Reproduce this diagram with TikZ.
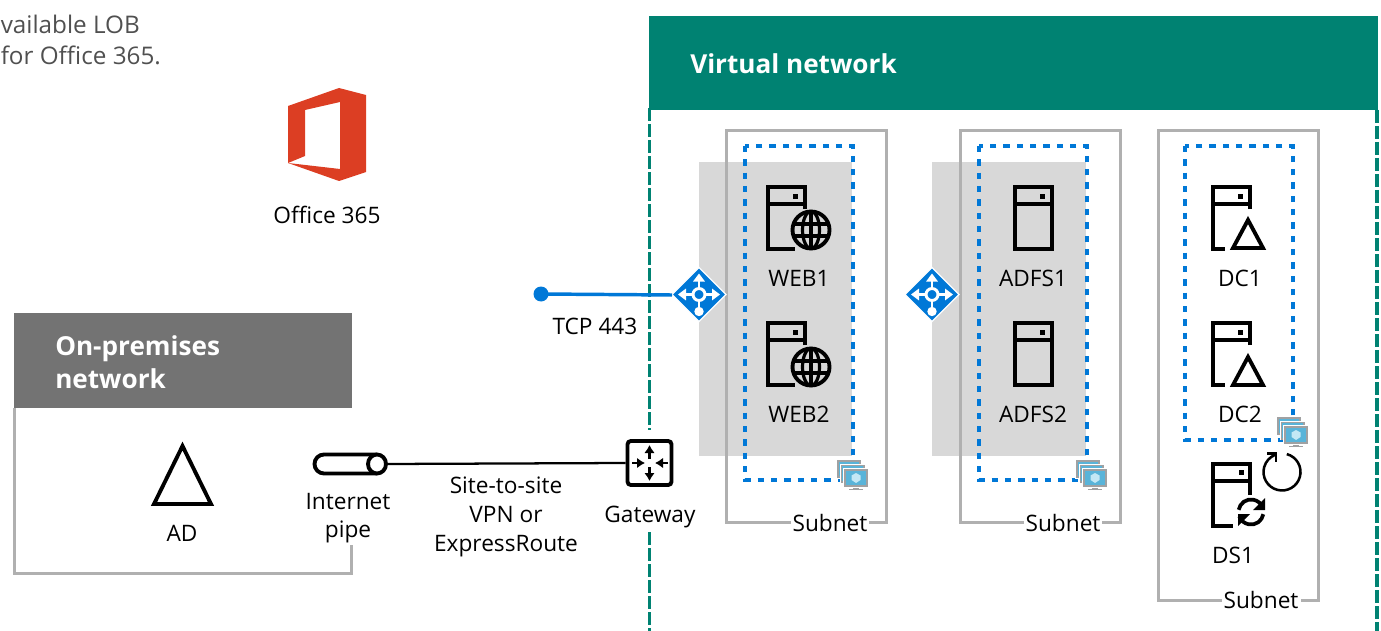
\documentclass[tikz,border=0pt]{standalone}
\usepackage{fontspec}
\setmainfont{Open Sans}
\usetikzlibrary{arrows.meta}
\definecolor{vnet}{HTML}{008272}
\definecolor{onprem}{HTML}{737373}
\definecolor{frameg}{HTML}{B0B0B0}
\definecolor{panelg}{HTML}{D8D8D8}
\definecolor{azblue}{HTML}{0078D7}
\definecolor{o365}{HTML}{DC3E23}
\definecolor{greytxt}{HTML}{505050}
\definecolor{vmblue}{HTML}{59B4D9}
\definecolor{vmgray}{HTML}{A0A1A2}
\definecolor{vmcube}{HTML}{C4E8F5}
\tikzset{
 x=0.75pt,y=-0.75pt,
 lab/.style={font=\fontsize{17pt}{21.5pt}\selectfont,text=black,align=center,inner sep=0pt},
 captxt/.style={font=\fontsize{18.2pt}{23pt}\selectfont,text=greytxt,inner sep=0pt,anchor=west},
 head/.style={font=\fontsize{19.6pt}{24.8pt}\selectfont\bfseries,text=white,align=left,inner sep=0pt,anchor=west},
 framebox/.style={draw=frameg,line width=2.25pt},
 avset/.style={draw=azblue,line width=2.4pt,dash pattern=on 4.8pt off 5.2pt},
 vnetdash/.style={draw=vnet,line width=2.6pt,dash pattern=on 9.4pt off 2.6pt},
 ico/.style={draw=black,line width=2.9pt},
}
\newcommand{\srv}[2]{% plain server body, top-left at (#1,#2)
 \draw[ico] (#1,#2) rectangle ++(37,62);
 \draw[ico] (#1,#2+17) -- ++(37,0);
 \fill[black] (#1+25,#2+7) rectangle ++(5,5);}
\newcommand{\srvopen}[3]{% server body broken at lower right, #3 = length of base
 \draw[ico] (#1+37,#2+22) |- (#1,#2) |- (#1+#3,#2+62);
 \draw[ico] (#1,#2+17) -- ++(37,0);
 \fill[black] (#1+25,#2+7) rectangle ++(5,5);}
\newcommand{\globeicon}[2]{% centre
 \draw[line width=2.9pt,black] (#1,#2) circle (18.5);
 \draw[line width=2.4pt,black] (#1,#2) ellipse (8.5 and 18.5);
 \draw[line width=2.4pt,black] (#1,#2-18) -- (#1,#2+18);
 \draw[line width=2.4pt,black] (#1-17,#2-6) -- (#1+17,#2-6) (#1-17,#2+6) -- (#1+17,#2+6);}
\newcommand{\adtri}[2]{% apex
 \draw[ico,line join=miter] (#1,#2+3) -- (#1+15,#2+31) -- (#1-15,#2+31) -- cycle;}
\newcommand{\lbicon}[2]{% centre
 \fill[azblue,draw=white,line width=1pt] (#1,#2-27) -- (#1+27,#2) -- (#1,#2+27) -- (#1-27,#2) -- cycle;
 \draw[white,line width=2.2pt,-{Triangle[length=6pt,width=8.5pt]}] (#1-6,#2) -- (#1-21,#2);
 \draw[white,line width=2.2pt,-{Triangle[length=6pt,width=8.5pt]}] (#1+6,#2) -- (#1+21,#2);
 \draw[white,line width=2.2pt,-{Triangle[length=6pt,width=8.5pt]}] (#1,#2-6) -- (#1,#2-21);
 \draw[white,line width=2.2pt] (#1,#2+6) -- (#1,#2+14);
 \draw[white,line width=2.2pt] (#1,#2) circle (6);
 \fill[white] (#1,#2+17) circle (4.7);}
\newcommand{\vmicon}[2]{% one monitor top-left
 \fill[vmgray] (#1+9,#2+17) rectangle ++(6,3);
 \fill[vmgray] (#1+5,#2+19.5) rectangle ++(14,1.6);
 \fill[white] (#1-.8,#2-.8) rectangle ++(25.6,19.6);
 \fill[vmgray] (#1,#2) rectangle ++(24,18);
 \fill[vmblue] (#1+1.6,#2+1.6) rectangle ++(20.8,14.8);
 \fill[vmcube] (#1+12,#2+4) -- (#1+16.5,#2+6.5) -- (#1+16.5,#2+11) -- (#1+12,#2+14) -- (#1+7.5,#2+11) -- (#1+7.5,#2+6.5) -- cycle;}
\newcommand{\vmstack}[2]{\vmicon{#1}{#2}\vmicon{#1+3.5}{#2+4.5}\vmicon{#1+7}{#2+9}}
\begin{document}
\begin{tikzpicture}
\useasboundingbox (0,0) rectangle (1381,631);
\begin{scope}
\clip (0,0) rectangle (1381,631);
% caption fragment
\node[captxt] (cap1) at (0.5,24) {vailable LOB};
\node[captxt] (cap2) at (0.5,55) {for Office 365.};
% Office logo
\fill[o365,even odd rule] (288,106) -- (339,88) -- (366,95) -- (366,172) -- (339,181) -- (288,163) -- cycle
 (305,110) -- (340,102) -- (340,169) -- (288,163) -- (305,156) -- cycle;
\node[lab] (office) at (327,215) {Office 365};
% Virtual network
\fill[vnet] (649,16) rectangle (1378,110);
\node[head] (vnettitle) at (690,64) {Virtual network};
\draw[vnetdash] (649.5,108) -- (649.5,430);
\draw[vnetdash] (649.5,532) -- (649.5,631);
\draw[vnetdash] (1377,110) -- (1377,631);
% grey panels
\fill[panelg] (699,162) rectangle (852,456);
\fill[panelg] (932,162) rectangle (1086,456);
% subnets
\draw[framebox] (791,522) -| (726.5,131) -| (886.5,522) -- (869,522);
\draw[framebox] (1024,522) -| (960,131) -| (1120,522) -- (1102,522);
\draw[framebox] (1222,600) -| (1158,131) -| (1318,600) -- (1301,600);
% availability sets
\draw[avset] (745,146) rectangle (853,480);
\draw[avset] (979,146) rectangle (1087,480);
\draw[avset] (1185,146) rectangle (1293,440);
\node[lab] (sub1) at (830,523) {Subnet};
\node[lab] (sub2) at (1063,523) {Subnet};
\node[lab] (sub3) at (1261,600) {Subnet};
\vmstack{837}{460}\vmstack{1076}{460}\vmstack{1277}{417}
% servers
\srvopen{768}{187}{27}\globeicon{811}{230}
\node[lab] (web1) at (799,278) {WEB1};
\srvopen{768}{323}{27}\globeicon{811}{367}
\node[lab] (web2) at (799,414) {WEB2};
\srv{1015}{187}
\node[lab] (adfs1) at (1033,278) {ADFS1};
\srv{1015}{323}
\node[lab] (adfs2) at (1033,414) {ADFS2};
\srvopen{1213}{187}{12}\adtri{1248}{217}
\node[lab] (dc1) at (1240,278) {DC1};
\srvopen{1213}{323}{12}\adtri{1248}{354}
\node[lab] (dc2) at (1240,414) {DC2};
% DS1
\draw[ico] (1250,495) |- (1213,464) |- (1233,526);
\draw[ico] (1213,481) -- (1250,481);
\fill[black] (1239,470) rectangle ++(5,5);
\draw[line width=2.8pt,black] (1238.7,509.8) arc (190:340:12.5);
\draw[line width=2.8pt,black] (1263.3,514.2) arc (10:160:12.5);
\fill[black] (1265,498) -- (1265,510) -- (1253,510) -- cycle;
\fill[black] (1238,526) -- (1238,514) -- (1250,514) -- cycle;
\node[lab] (ds1) at (1233,555) {DS1};
% backup circle
\draw[line width=1.9pt,black] (1286.8,454.1) arc (-75:250:18.5);
\draw[line width=1.9pt,black] (1267,453.5) -- (1276,453.5) -- (1276,462);
% load balancers
\coordinate (tcp) at (541,294);
\lbicon{699}{294.5}\lbicon{932}{294.5}
\coordinate (lbA) at (672,295);
\fill[azblue] (tcp) circle (7.5);
\draw[azblue,line width=2.6pt] (tcp) -- (lbA);
\node[lab] (tcp443) at (595,326) {TCP 443};
% On-premises
\fill[onprem] (14,313) rectangle (352,408);
\node[head,align=left] (optitle) at (55,362) {On-premises\\network};
\draw[framebox] (14.5,408) |- (351.5,573) -- (351.5,545);
\draw[ico,line join=miter] (182.5,446) -- (211,504) -- (154,504) -- cycle;
\node[lab] (ad) at (182,533) {AD};
% pipe
\draw[ico] (377,454.5) -- (324,454.5) arc (270:90:9.5) -- (377,473.5);
\draw[ico,fill=white] (377,464) ellipse (9 and 9.5);
\coordinate (pipeR) at (386,464);
\node[lab] (pipe) at (348,518) {Internet\\pipe};
% gateway
\node[draw=black,line width=2.9pt,rounded corners=2.5pt,minimum size=33pt,inner sep=0pt,fill=white] (gw) at (649.5,463) {};
\draw[line width=2.2pt,black,-{Latex[length=6pt,width=8pt]}] (649.5,459) -- (649.5,445);
\draw[line width=2.2pt,black,-{Latex[length=6pt,width=8pt]}] (649.5,467) -- (649.5,481);
\draw[line width=2.2pt,black,-{Latex[length=6pt,width=8pt]}] (632,463) -- (645,463);
\draw[line width=2.2pt,black,-{Latex[length=6pt,width=8pt]}] (668,463) -- (655,463);
\node[lab] (gwl) at (650,517) {Gateway};
\draw[black,line width=1.7pt] (pipeR) -- (gw.west);
\node[lab] (s2s) at (506,517) {Site-to-site\\VPN or\\ExpressRoute};
\end{scope}
\end{tikzpicture}
\end{document}
